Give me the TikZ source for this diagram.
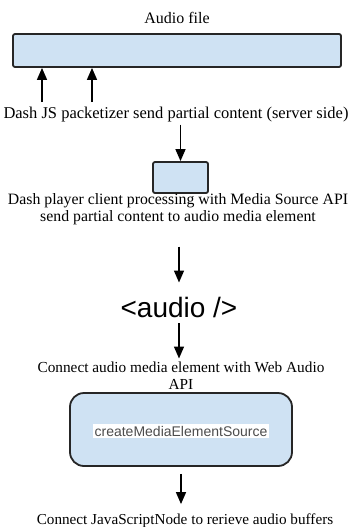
\documentclass[tikz,border=0pt]{standalone}
\usepackage{fontspec}
\setmainfont{Liberation Serif}
\setsansfont{Liberation Sans}
\usepackage{tikz}
\usetikzlibrary{positioning, arrows.meta}
\definecolor{boxblue}{HTML}{CFE2F3}

\begin{document}
\begin{tikzpicture}[x=1pt, y=-1pt,
		block/.style = {draw=black!85, line width=1.8pt, fill=boxblue, rounded corners=2pt, inner sep=0pt},
		caption/.style = {font=\fontsize{#1}{17}\selectfont, align=center, inner sep=0pt, anchor=base},
		caption/.default = 16,
		flow/.style = {-{Triangle[length=12pt, width=10pt]}, line width=1.5pt}]
		\useasboundingbox (0,0) rectangle (352,527);
		
		\node[caption] (filelbl) at (177,24) {Audio file};
		\node[block, minimum width=328pt, minimum height=33pt] (file) at (177,50.5) {};
		\node[caption=16.5] (packetizer) at (176,118) {Dash JS packetizer send partial content (server side)};
		\node[block, minimum width=55pt, minimum height=31pt] (client) at (180.5,177.5) {};
		\node[caption=15.8, anchor=north] (player) at (178,193) {Dash player client processing with Media Source API\\send partial content to audio media element};
		\node[font=\sffamily\fontsize{28}{30}\selectfont, inner sep=0pt, anchor=base] (tag) at (179,317) {<audio />};
		\node[caption=15.3, anchor=north] (webaudio) at (181,361.5) {Connect audio media element with Web Audio\\API};
		\node[block, rounded corners=14pt, minimum width=222pt, minimum height=73pt] (source) at (181,429.5) {};
		\node[font=\sffamily\fontsize{14}{16}\selectfont, text=black!70, fill=white, inner sep=1.5pt, anchor=base] (sourcetxt) at (181,436) {createMediaElementSource};
		\node[caption=15.2] (jsnode) at (185,524) {Connect JavaScriptNode to rerieve audio buffers};
		
		\coordinate (up1) at (42,102);
		\coordinate (up2) at (92,102);
		\draw[flow] (up1) -- (file.south -| up1);
		\draw[flow] (up2) -- (file.south -| up2);
		\draw[flow, shorten <=3pt] (packetizer.south -| client.north) -- (client.north);
		\draw[flow, shorten <=22pt, shorten >=14pt] (player.south -| tag.north) -- (tag.north);
		\draw[flow, shorten <=6pt, shorten >=3pt] (tag.south) -- (tag.south |- webaudio.north);
		\draw[flow, shorten <=7pt, shorten >=9pt] (source.south) -- (source.south |- jsnode.north);
	\end{tikzpicture}
\end{document}
